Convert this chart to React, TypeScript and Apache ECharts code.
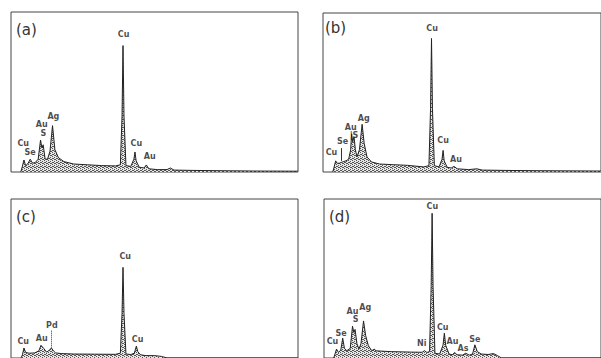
import React, { useEffect, useRef } from "react";
import * as echarts from "echarts";

// Energy axis (keV) and intensity scale (arbitrary units)
const X_MAX = 20.6;
const Y_MAX = 100;

// ---- Panel (a) spectrum ----
const aKeV = [0.7, 0.8, 0.93, 1.05, 1.2, 1.38, 1.55, 1.75, 1.95, 2.12, 2.22, 2.31, 2.45, 2.62, 2.8, 2.98, 3.15, 3.4, 3.8, 4.5, 5.5, 6.5, 7.5, 7.85, 7.97, 8.04, 8.11, 8.25, 8.6, 8.82, 8.9, 8.98, 9.2, 9.55, 9.71, 9.9, 10.5, 11.2, 11.44, 11.7, 13, 15, 17.5, 20.6];
const aCounts = [0, 3, 7.5, 4, 5, 8, 5.5, 6, 8, 20, 15, 17, 8, 8, 13, 29, 14, 9, 6.5, 5, 4.5, 4, 3.8, 4.5, 35, 79, 35, 4, 3.5, 8, 12.5, 7, 3, 2.5, 4.4, 2, 1.5, 1.5, 2.5, 1.2, 1, 0.8, 0.6, 0.5];
const aLabelNames = ["Cu", "Ag", "Au", "S", "Cu", "Se", "Cu", "Au"];
const aLabelKeV = [8.08, 3.04, 2.21, 2.32, 0.88, 1.37, 9.0, 9.95];
const aLabelY = [86, 34.6, 29.4, 24.2, 17.9, 12.1, 17.9, 10];

// ---- Panel (b) spectrum ----
const bKeV = [0.72, 0.82, 0.94, 1.05, 1.2, 1.35, 1.5, 1.7, 1.9, 2.05, 2.12, 2.2, 2.3, 2.4, 2.52, 2.7, 2.9, 3.05, 3.26, 3.6, 4.2, 5.2, 6.25, 7.46, 7.85, 7.97, 8.04, 8.11, 8.25, 8.6, 8.82, 8.9, 8.98, 9.2, 9.5, 9.71, 9.95, 10.8, 11.4, 11.8, 13.5, 16, 20.6];
const bCounts = [0, 3, 7, 5.5, 5.5, 6, 6.5, 7, 8, 14, 24, 19, 22, 14, 9.5, 14, 30, 18, 9.5, 6.3, 5, 4.6, 4.2, 3.2, 4, 40, 84, 40, 4, 3.2, 8, 13.6, 7, 3, 2.5, 3.5, 2, 1.5, 2, 1.2, 1, 0.8, 0.6];
const bLabelNames = ["Cu", "Ag", "Au", "|S", "Se", "Cu", "Cu", "Au"];
const bLabelKeV = [8.08, 3.02, 2.06, 2.3, 1.46, 0.63, 8.9, 9.86];
const bLabelY = [90.3, 33.6, 28.3, 23, 19, 12, 19.8, 7.9];
const bTickKeV = [1.35];
const bTickFrom = [7];
const bTickTo = [15];

// ---- Panel (c) spectrum ----
const cKeV = [0.72, 0.82, 0.93, 1.05, 1.3, 1.7, 2.0, 2.15, 2.35, 2.55, 2.7, 2.9, 3.05, 3.2, 3.6, 4.5, 6, 7.5, 7.85, 7.97, 8.04, 8.11, 8.25, 8.6, 8.85, 9.0, 9.1, 9.3, 9.7, 10.3, 10.8, 11.2, 20.6];
const cCounts = [0, 2, 6.3, 3.5, 3, 3.2, 4.5, 8, 6, 3.7, 4.5, 6.3, 4.5, 3.2, 2.8, 2.5, 2.4, 2.3, 3, 28, 57, 28, 2.5, 2.2, 3, 7.5, 4, 2, 1.5, 1.5, 1, 0, 0];
const cLabelNames = ["Cu", "Pd", "Au", "Cu", "Cu"];
const cLabelKeV = [8.2, 2.93, 2.21, 0.88, 9.09];
const cLabelY = [63.6, 20.6, 12.5, 10.2, 11.5];
const cTickKeV = [2.9];
const cTickFrom = [6.5];
const cTickTo = [17.5];

// ---- Panel (d) spectrum ----
const dKeV = [0.72, 0.82, 0.93, 1.07, 1.25, 1.39, 1.52, 1.7, 1.95, 2.12, 2.22, 2.31, 2.45, 2.6, 2.75, 2.94, 3.1, 3.3, 3.55, 3.75, 3.85, 4.1, 5, 6.5, 7.3, 7.47, 7.65, 7.85, 7.97, 8.04, 8.11, 8.25, 8.6, 8.85, 8.95, 9.05, 9.3, 9.55, 9.71, 9.9, 10.3, 10.54, 10.8, 11.05, 11.22, 11.4, 11.7, 12.2, 12.6, 12.9, 13.2, 20.6];
const dCounts = [0, 2.5, 5.6, 3.5, 5, 12.5, 6, 4.6, 6, 20, 16, 18, 9, 5.6, 9, 23.3, 14, 7.7, 4.6, 5.6, 4.5, 4.4, 4, 3.7, 3.6, 4.6, 3.5, 4, 45, 91, 45, 3, 2.5, 8, 15.6, 8, 2.5, 2, 3.5, 2, 1.8, 3, 1.8, 2.5, 8.3, 4, 2.5, 2.2, 2.8, 1.5, 0, 0];
const dLabelNames = ["Cu", "Ag", "Au", "S", "Se", "Cu", "Ni", "Cu", "Au", "As", "Se"];
const dLabelKeV = [8.06, 3.07, 2.11, 2.35, 1.27, 0.63, 7.27, 8.83, 9.55, 10.34, 11.22];
const dLabelY = [95.2, 31.9, 29, 24, 15.6, 10.6, 9.4, 19.2, 10.6, 6.25, 11.4];

const panelTags = ["(a)", "(b)", "(c)", "(d)"];

const FONT = "DejaVu Sans";

function makeStipple(): string | null {
  try {
    const c = document.createElement("canvas");
    c.width = 4;
    c.height = 4;
    const ctx = c.getContext("2d");
    if (!ctx) return null;
    ctx.fillStyle = "#e6e6e6";
    ctx.fillRect(0, 0, 4, 4);
    ctx.fillStyle = "#555";
    const dots = [[0, 0], [2, 1], [1, 2], [3, 3], [2, 3], [0, 2]];
    dots.forEach(([x, y]) => ctx.fillRect(x, y, 1, 1));
    return c.toDataURL("image/png");
  } catch (e) {
    return null;
  }
}

export default function App() {
  const ref = useRef<HTMLDivElement>(null);

  useEffect(() => {
    document.body.style.margin = "0";
    if (!ref.current) return;
    const chart = echarts.init(ref.current, null, { renderer: "svg" });

    const stipple = makeStipple();
    const fill: any = stipple
      ? { image: stipple, repeat: "repeat", imageWidth: 4, imageHeight: 4 }
      : "#c2c2c2";

    const layouts = [
      { left: 11, top: 12, width: 287, height: 160, tagLeft: 16, tagTop: 22 },
      { left: 323, top: 13, width: 287, height: 159, tagLeft: 325, tagTop: 20 },
      { left: 11, top: 199, width: 287, height: 160, tagLeft: 16, tagTop: 209 },
      { left: 324, top: 199, width: 287, height: 160, tagLeft: 329, tagTop: 209 },
    ];

    const spectra = [
      { keV: aKeV, counts: aCounts, names: aLabelNames, lx: aLabelKeV, ly: aLabelY, tk: [] as number[], tf: [] as number[], tt: [] as number[], dash: "solid" },
      { keV: bKeV, counts: bCounts, names: bLabelNames, lx: bLabelKeV, ly: bLabelY, tk: bTickKeV, tf: bTickFrom, tt: bTickTo, dash: "solid" },
      { keV: cKeV, counts: cCounts, names: cLabelNames, lx: cLabelKeV, ly: cLabelY, tk: cTickKeV, tf: cTickFrom, tt: cTickTo, dash: "dotted" },
      { keV: dKeV, counts: dCounts, names: dLabelNames, lx: dLabelKeV, ly: dLabelY, tk: [] as number[], tf: [] as number[], tt: [] as number[], dash: "solid" },
    ];

    const grid = layouts.map((l) => ({
      left: l.left,
      top: l.top,
      width: l.width,
      height: l.height,
      show: true,
      borderColor: "#444",
      borderWidth: 1,
      backgroundColor: "transparent",
      containLabel: false,
    }));

    const xAxis = layouts.map((_, i) => ({
      type: "value" as const,
      gridIndex: i,
      min: 0,
      max: X_MAX,
      show: false,
    }));
    const yAxis = layouts.map((_, i) => ({
      type: "value" as const,
      gridIndex: i,
      min: 0,
      max: Y_MAX,
      show: false,
    }));

    const series: any[] = [];
    spectra.forEach((s, i) => {
      series.push({
        type: "line",
        xAxisIndex: i,
        yAxisIndex: i,
        data: s.keV.map((k, j) => [k, s.counts[j]]),
        showSymbol: false,
        symbol: "none",
        lineStyle: { color: "#222", width: 1 },
        areaStyle: { color: fill, opacity: 1 },
        silent: true,
        markLine: s.tk.length
          ? {
              silent: true,
              symbol: "none",
              label: { show: false },
              lineStyle: { color: "#333", width: 1, type: s.dash },
              data: s.tk.map((k, j) => [{ coord: [k, s.tf[j]] }, { coord: [k, s.tt[j]] }]),
            }
          : undefined,
      });
      series.push({
        type: "scatter",
        xAxisIndex: i,
        yAxisIndex: i,
        symbolSize: 1,
        itemStyle: { color: "rgba(0,0,0,0)" },
        silent: true,
        data: s.names.map((n, j) => ({ name: n, value: [s.lx[j], s.ly[j]] })),
        label: {
          show: true,
          position: "inside",
          formatter: (p: any) => p.name,
          fontFamily: FONT,
          fontSize: 8,
          fontWeight: "bold",
          color: "#1a1a1a",
          textBorderWidth: 0,
        },
      });
    });

    const graphic = layouts.map((l, i) => ({
      type: "text",
      left: l.tagLeft,
      top: l.tagTop,
      style: {
        text: panelTags[i],
        font: `15px "${FONT}"`,
        fill: "#333",
      },
    }));

    chart.setOption({
      animation: false,
      backgroundColor: "#ffffff",
      grid,
      xAxis,
      yAxis,
      series,
      graphic,
    });

    return () => chart.dispose();
  }, []);

  return <div ref={ref} style={{ width: 601, height: 358 }} />;
}
